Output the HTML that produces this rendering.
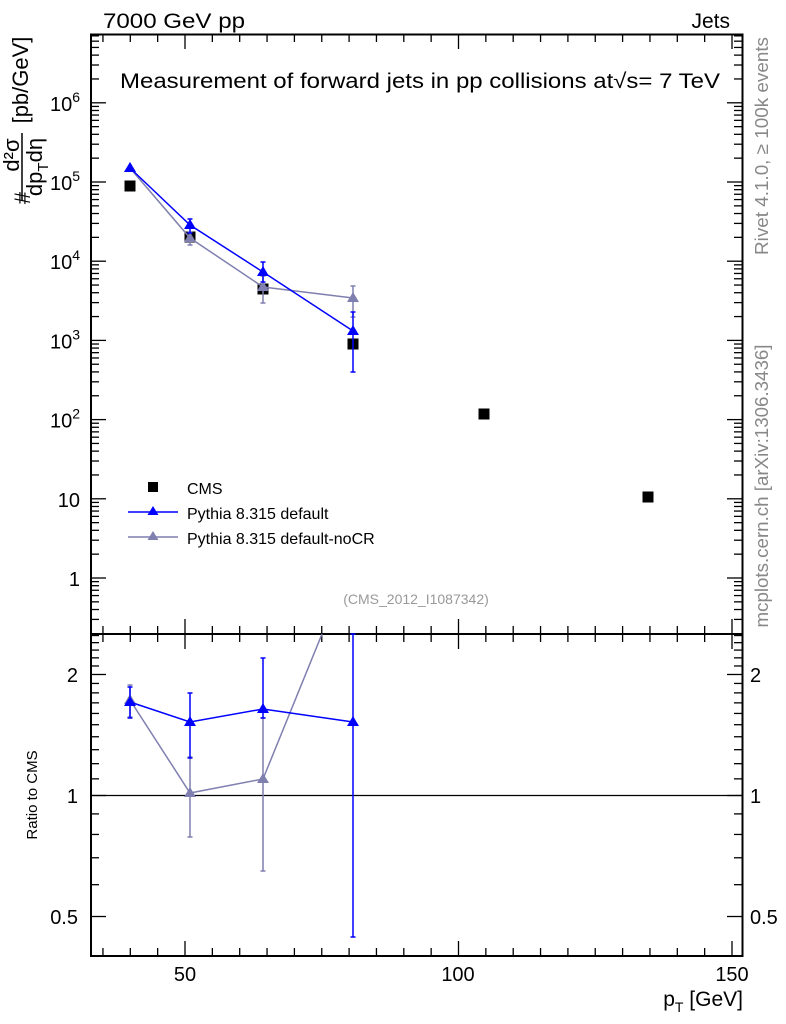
<!DOCTYPE html>
<html><head><meta charset="utf-8"><style>
body{margin:0;background:#fff}
svg{display:block;font-family:"Liberation Sans",sans-serif}
</style></head><body>
<svg id="s" width="786" height="1024" viewBox="0 0 786 1024" xmlns="http://www.w3.org/2000/svg">
<rect width="786" height="1024" fill="#fff"/>
<g id="ticks" stroke="#000" stroke-width="1.3" fill="none"></g>
<rect x="91" y="34.5" width="651.5" height="599.5" fill="none" stroke="#000" stroke-width="2"/>
<rect x="91" y="634" width="651.5" height="322" fill="none" stroke="#000" stroke-width="2"/>
<line x1="91" y1="795.5" x2="742" y2="795.5" stroke="#000" stroke-width="1.3"/>
<text x="103" y="28" font-size="21" textLength="142" lengthAdjust="spacingAndGlyphs">7000 GeV pp</text>
<text x="730" y="28" font-size="21" text-anchor="end">Jets</text>
<text x="120" y="88" font-size="21" textLength="600" lengthAdjust="spacingAndGlyphs">Measurement of forward jets in pp collisions at√s= 7 TeV</text>
<g id="ylab" font-size="20" text-anchor="end"></g>
<g transform="rotate(-90)" font-size="22" text-anchor="middle">
<text x="-198" y="30">#</text>
<text x="-155" y="19">d²σ</text>
<text x="-167" y="42">dp<tspan font-size="15" dy="6">T</tspan><tspan dy="-6">dη</tspan></text>
<text x="-80" y="28">[pb/GeV]</text>
</g>
<line x1="22" y1="133" x2="22" y2="201" stroke="#000" stroke-width="1.5"/>
<g transform="rotate(-90)" fill="#888" font-size="18.5">
<text x="-146" y="768" text-anchor="middle" textLength="218" lengthAdjust="spacingAndGlyphs">Rivet 4.1.0, ≥ 100k events</text>
<text x="-486" y="768" text-anchor="middle" textLength="283" lengthAdjust="spacingAndGlyphs">mcplots.cern.ch [arXiv:1306.3436]</text>
</g>
<text x="416" y="604" font-size="14" fill="#999" text-anchor="middle">(CMS_2012_I1087342)</text>
<g transform="rotate(-90)"><text x="-795" y="37" font-size="15" text-anchor="middle">Ratio to CMS</text></g>
<g font-size="20">
<text x="78" y="682" text-anchor="end">2</text>
<text x="78" y="803" text-anchor="end">1</text>
<text x="78" y="924" text-anchor="end">0.5</text>
<text x="750" y="682">2</text>
<text x="750" y="803">1</text>
<text x="750" y="924">0.5</text>
<text x="185" y="981" text-anchor="middle">50</text>
<text x="458" y="981" text-anchor="middle">100</text>
<text x="732" y="981" text-anchor="middle">150</text>
<text x="743" y="1006" text-anchor="end" font-size="21">p<tspan font-size="14" dy="6">T</tspan><tspan dy="-6"> [GeV]</tspan></text>
</g>
<g id="data"></g>
<rect x="148" y="482" width="10" height="10" fill="#000"/>
<text x="187" y="494" font-size="16">CMS</text>
<line x1="128" y1="512" x2="178" y2="512" stroke="#00f" stroke-width="1.5"/>
<path d="M153,506 l5.5,9 h-11z" fill="#00f"/>
<text x="187" y="519" font-size="16">Pythia 8.315 default</text>
<line x1="128" y1="537" x2="178" y2="537" stroke="#7f7fb0" stroke-width="1.5"/>
<path d="M153,531 l5.5,9 h-11z" fill="#7f7fb0"/>
<text x="187" y="544" font-size="16">Pythia 8.315 default-noCR</text>
</svg>
<script>
var NS="http://www.w3.org/2000/svg";
function el(p,t,a){var e=document.createElementNS(NS,t);for(var k in a)e.setAttribute(k,a[k]);p.appendChild(e);return e;}
var T=document.getElementById('ticks');
function ln(x1,y1,x2,y2){el(T,'line',{x1:x1,y1:y1,x2:x2,y2:y2});}
function X(v){return 185+(v-50)*5.47;}
for(var v=35;v<=150;v+=5){var x=X(v),L=(v%50==0)?15:8;
 ln(x,34,x,34+L);ln(x,634,x,634-L);ln(x,634,x,634+L);ln(x,956,x,956-L);}
function Y(v){return 578-79.2*Math.log10(v);}
var yl=document.getElementById('ylab');
for(var d=-1;d<=6;d++){for(var m=1;m<10;m++){var val=m*Math.pow(10,d),y=Y(val);if(y<35||y>633)continue;
 var L=m==1?15:8;ln(91,y,91+L,y);ln(742,y,742-L,y);}}
[[6,"6"],[5,"5"],[4,"4"],[3,"3"],[2,"2"]].forEach(function(l){var t=el(yl,'text',{x:80,y:Y(Math.pow(10,l[0]))+8});t.textContent="10";var s=el(t,'tspan',{dy:-9,'font-size':14});s.textContent=l[1];});
[[1,"10"],[0,"1"]].forEach(function(l){var t=el(yl,'text',{x:80,y:Y(Math.pow(10,l[0]))+8});t.textContent=l[1];});
function R(r){return 795.5-402*Math.log10(r);}
[0.4,0.5,0.6,0.7,0.8,0.9,1,1.1,1.2,1.3,1.4,1.5,1.6,1.7,1.8,1.9,2,2.1,2.2,2.3,2.4,2.5].forEach(function(r){var y=R(r);if(y<635||y>955)return;var L=(r==0.5||r==1||r==2)?15:8;ln(91,y,91+L,y);ln(742,y,742-L,y);});
var D=document.getElementById('data');
function series(pts,col,w){var p=pts.map(function(q){return q[0]+','+q[1]}).join(' ');
 el(D,'polyline',{points:p,fill:'none',stroke:col,'stroke-width':w});
 pts.forEach(function(q){if(q[2]!=null){el(D,'line',{x1:q[0],y1:q[2],x2:q[0],y2:q[3],stroke:col,'stroke-width':w});
  el(D,'line',{x1:q[0]-2.5,y1:q[2],x2:q[0]+2.5,y2:q[2],stroke:col,'stroke-width':w});
  el(D,'line',{x1:q[0]-2.5,y1:q[3],x2:q[0]+2.5,y2:q[3],stroke:col,'stroke-width':w});}});
 pts.forEach(function(q){if(q[4])return;el(D,'path',{d:'M'+q[0]+','+(q[1]-6)+' l6,10 h-12z',fill:col});});}
[[130,186],[190,237],[263,289],[353,344],[484,414],[648,497]].forEach(function(q){el(D,'rect',{x:q[0]-5.5,y:q[1]-5.5,width:11,height:11,fill:'#000'});});
series([[130,168],[190,238,232,245],[263,287,276,303],[353,298,286,317]],'#7f7fb0',1.5);
series([[130,168],[190,225,219,233],[263,272,262,282],[353,331,312,372]],'#00f',1.5);
series([[130,700,685,717],[190,793,757,837],[263,779,718,871],[322,634,null,null,1]],'#7f7fb0',1.5);
series([[130,702,687,718],[190,722,693,758],[263,709,658,718],[353,722,634,937]],'#00f',1.5);
</script>
</body></html>
